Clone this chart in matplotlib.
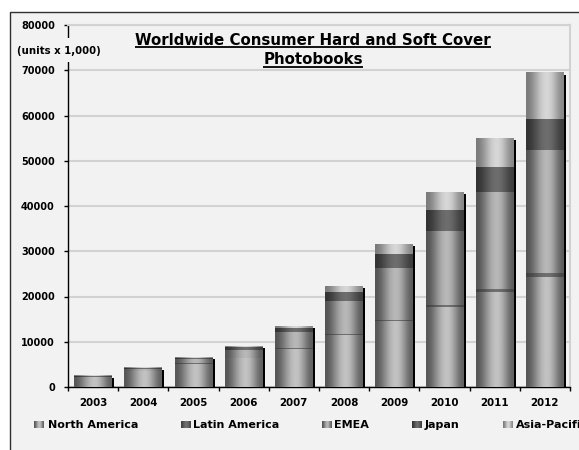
import numpy as np
import matplotlib
matplotlib.use('Agg')
import matplotlib.pyplot as plt
from matplotlib.patches import Rectangle

years = ['2003', '2004', '2005', '2006', '2007', '2008', '2009', '2010', '2011', '2012']
north_america = [2100, 3500, 5100, 6400, 8500, 11600, 14500, 17600, 21000, 24200]
latin_america = [30, 50, 100, 100, 150, 200, 300, 500, 700, 1000]
emea = [150, 350, 900, 1700, 3550, 7100, 11500, 16400, 21300, 27200]
japan = [100, 200, 400, 700, 900, 2200, 3100, 4700, 5700, 6800]
asia_pacific = [20, 50, 100, 200, 300, 1200, 2200, 3900, 6400, 10300]

series_names = ['North America', 'Latin America', 'EMEA', 'Japan', 'Asia-Pacific']
series_values = [north_america, latin_america, emea, japan, asia_pacific]

# grey levels (left edge, highlight, right edge) for the cylinder look
shading = {
    'North America': (0.34, 0.76, 0.38),
    'Latin America': (0.26, 0.44, 0.28),
    'EMEA': (0.33, 0.72, 0.36),
    'Japan': (0.20, 0.43, 0.24),
    'Asia-Pacific': (0.48, 0.84, 0.53),
}
# legend: marker left x, text left x (pixels)
legend_pos = [(34, 48), (181, 193), (322, 334), (412, 425), (503, 516)]

W, H = 579, 450
BG = '#f2f2f2'


def gradient(left, peak, right, n=64):
    t = np.linspace(0, 1, n)
    tp = 0.55
    u = np.where(t < tp, t / tp * 0.5, 0.5 + (t - tp) / (1 - tp) * 0.5)
    s = np.sin(np.pi * u) ** 1.8
    vals = np.where(t < tp, left + (peak - left) * s, right + (peak - right) * s)
    return vals[None, :]


fig = plt.figure(figsize=(W / 100, H / 100), dpi=100, facecolor='white')

# background frame
bg = fig.add_axes([0, 0, 1, 1], zorder=-2)
bg.set_xlim(0, W)
bg.set_ylim(H, 0)
bg.axis('off')
bg.add_patch(Rectangle((10, 12), 620, 470, facecolor=BG, edgecolor='#303030', lw=1))

ax = fig.add_axes([68 / W, 1 - 387 / H, (570 - 68) / W, (387 - 25) / H], zorder=1)
ax.set_facecolor(BG)
x = np.arange(len(years))
bw = 0.75

totals = np.sum(series_values, axis=0)
ax.bar(x + 0.045, totals, width=bw, bottom=-440, color='black', zorder=2.5)

bottom = np.zeros(len(years))
for name, vals in zip(series_names, series_values):
    vals = np.array(vals, dtype=float)
    bars = ax.bar(x, vals, width=bw, bottom=bottom, color='#909090', zorder=3)
    g = gradient(*shading[name])
    for b in bars:
        x0, y0 = b.get_x(), b.get_y()
        ax.imshow(g, extent=(x0, x0 + b.get_width(), y0, y0 + b.get_height()),
                  cmap='gray', vmin=0, vmax=1, aspect='auto',
                  interpolation='bilinear', zorder=3.5)
    bottom += vals

ax.set_xlim(-0.5, 9.5)
ax.set_ylim(0, 80000)
ax.set_yticks(np.arange(0, 80001, 10000))
ax.set_yticklabels([str(v) for v in range(0, 80001, 10000)], fontsize=7, fontweight='bold')
ax.set_xticks(x)
ax.set_xticklabels(years, fontsize=7.4, fontweight='bold')
ax.set_xticks(np.arange(-0.5, 10, 1), minor=True)
ax.tick_params(axis='x', which='major', length=0, pad=8)
ax.tick_params(axis='x', which='minor', length=3, width=1, direction='out', color='black')
ax.tick_params(axis='y', length=3, width=1, direction='out', color='black', pad=6.5)
ax.grid(axis='y', color='#d2d2d2', lw=1.5)
ax.set_axisbelow(True)
for s in ['left', 'bottom']:
    ax.spines[s].set_color('black')
    ax.spines[s].set_linewidth(1)
for s in ['top', 'right']:
    ax.spines[s].set_color('#d2d2d2')
    ax.spines[s].set_linewidth(1.5)

# overlay for title, units label and legend
ov = fig.add_axes([0, 0, 1, 1], zorder=5)
ov.set_xlim(0, W)
ov.set_ylim(H, 0)
ov.axis('off')
ov.patch.set_alpha(0)

ov.add_patch(Rectangle((62, 38), 12, 24, facecolor=BG, edgecolor='none'))
ov.text(17, 51, '(units x 1,000)', fontsize=7.3, fontweight='bold', va='center', ha='left')

t1 = ov.text(313, 45, 'Worldwide Consumer Hard and Soft Cover', fontsize=10.8,
             fontweight='bold', ha='center', va='baseline')
t2 = ov.text(313, 63.5, 'Photobooks', fontsize=10.8, fontweight='bold', ha='center', va='baseline')
fig.canvas.draw()
r = fig.canvas.get_renderer()
for t, uy in [(t1, 47), (t2, 66.5)]:
    bb = t.get_window_extent(renderer=r)
    ov.plot([bb.x0, bb.x1], [uy, uy], color='black', lw=1.3, solid_capstyle='butt')

for name, (mx, tx) in zip(series_names, legend_pos):
    g = gradient(*shading[name])
    ov.imshow(g, extent=(mx, mx + 10, 428.5, 421.5), cmap='gray', vmin=0, vmax=1,
              aspect='auto', interpolation='bilinear')
    ov.text(tx, 425, name, fontsize=8, fontweight='bold', va='center', ha='left')
ov.set_xlim(0, W)
ov.set_ylim(H, 0)

fig.savefig('out.png', dpi=100, facecolor='white')
